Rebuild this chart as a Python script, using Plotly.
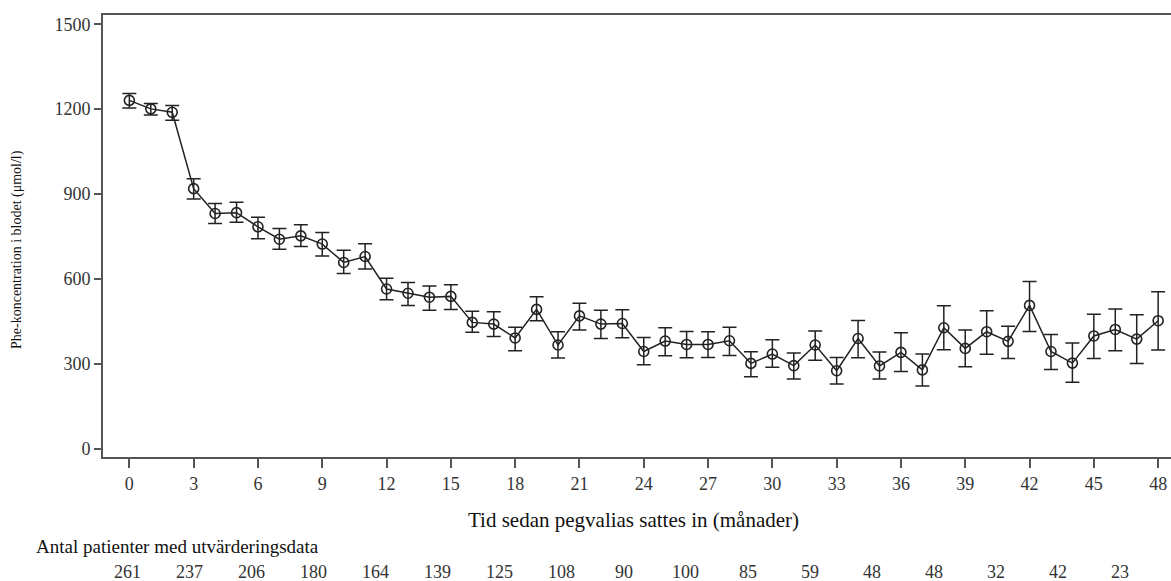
import plotly.graph_objects as go

months = list(range(0, 49))
mean_phe = [1231, 1201, 1189, 919, 831, 834, 784, 740, 752, 723, 658, 679, 564,
            549, 535, 538, 446, 440, 391, 492, 366, 469, 440, 442, 343, 380, 368, 368, 381, 301, 334,
            293, 366, 275, 389, 292, 340, 278, 427, 354, 413, 379, 506, 343, 302, 398, 421, 387, 452]
upper_phe = [1255, 1220, 1213, 954, 866, 871, 818, 778, 791, 764, 701, 724, 602,
             587, 575, 579, 485, 484, 429, 537, 413, 514, 489, 491, 393, 427, 414, 413, 429, 342, 385,
             338, 416, 322, 453, 341, 409, 334, 505, 419, 487, 432, 591, 403, 373, 475, 493, 473, 554]
lower_phe = [1204, 1179, 1161, 882, 796, 800, 742, 705, 714, 681, 619, 635, 526,
             506, 489, 492, 411, 396, 346, 452, 320, 419, 389, 392, 296, 328, 321, 322, 329, 254, 287,
             246, 312, 228, 321, 246, 272, 221, 349, 289, 333, 318, 414, 279, 234, 318, 346, 301, 348]

x_ticks = list(range(0, 49, 3))
y_ticks = [0, 300, 600, 900, 1200, 1500]
patient_counts = [261, 237, 206, 180, 164, 139, 125, 108, 90, 100, 85, 59, 48, 48, 32, 42, 23]

x_title = "Tid sedan pegvalias sattes in (månader)"
y_title = "Phe-koncentration i blodet (μmol/l)"
table_title = "Antal patienter med utvärderingsdata"

FONT = "Liberation Serif"
INK = "#222222"
AXIS = "#555555"

W, H = 1171, 581
L, R, T, B = 103, 0, 15, 124
plot_w = W - L - R
plot_h = H - T - B


def ypaper(py):
    return (H - B - py) / plot_h


def xpaper(px):
    return (px - L) / plot_w


err_plus = [u - m for u, m in zip(upper_phe, mean_phe)]
err_minus = [m - l for m, l in zip(mean_phe, lower_phe)]

fig = go.Figure()
fig.add_trace(go.Scatter(
    x=months, y=mean_phe, mode="lines+markers",
    line=dict(color=INK, width=1.5),
    marker=dict(symbol="circle-open", size=10, color=INK, line=dict(width=1.6)),
    error_y=dict(type="data", symmetric=False, array=err_plus, arrayminus=err_minus,
                 color=INK, thickness=1.5, width=7),
    showlegend=False,
))

annotations = [
    dict(text=x_title, x=xpaper(633), y=ypaper(520), xref="paper", yref="paper", showarrow=False,
         xanchor="center", yanchor="middle", font=dict(family=FONT, size=21, color="#111111")),
    dict(text=y_title, x=xpaper(17), y=ypaper(250), xref="paper", yref="paper",
         showarrow=False, textangle=-90, xanchor="center", yanchor="middle",
         font=dict(family=FONT, size=14, color="#111111")),
    dict(text=table_title, x=xpaper(34), y=ypaper(546), xref="paper", yref="paper",
         showarrow=False, xanchor="left", yanchor="middle",
         font=dict(family=FONT, size=19, color="#111111")),
]

step = 2.892
for i, n in enumerate(patient_counts):
    annotations.append(dict(text=str(n), x=-0.07 + i * step, y=ypaper(572), xref="x", yref="paper",
                            showarrow=False, xanchor="center", yanchor="middle",
                            font=dict(family=FONT, size=18, color="#333333")))

fig.update_layout(
    width=W, height=H,
    margin=dict(l=L, r=R, t=T, b=B, pad=0),
    paper_bgcolor="white", plot_bgcolor="white",
    font=dict(family=FONT, size=18, color="#333333"),
    annotations=annotations,
    xaxis=dict(range=[-1.23, 48.6], tickvals=x_ticks, ticks="outside", ticklen=9, tickwidth=1.5,
               tickcolor=AXIS, showgrid=False, zeroline=False, showline=True, linecolor=AXIS,
               linewidth=2, mirror=True, tickfont=dict(family=FONT, size=18, color="#333333")),
    yaxis=dict(range=[-30, 1533], tickvals=y_ticks, ticks="outside", ticklen=7, tickwidth=1.5,
               tickcolor=AXIS, showgrid=False, zeroline=False, showline=True, linecolor=AXIS,
               linewidth=2, tickfont=dict(family=FONT, size=18, color="#333333")),
)

fig.write_html("out.html",
               config={"displayModeBar": False},
               post_script="document.body.style.margin='0';document.body.style.padding='0';"
                           "document.body.style.overflow='hidden';")
